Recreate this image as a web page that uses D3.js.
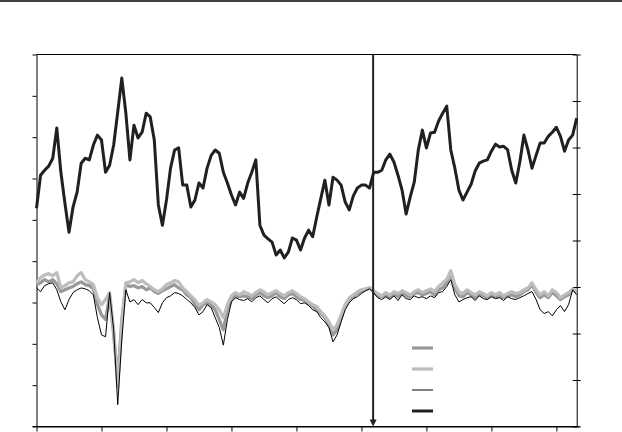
<!DOCTYPE html>
<html>
<head>
<meta charset="utf-8" />
<script src="https://cdnjs.cloudflare.com/ajax/libs/d3/7.8.5/d3.min.js"></script>
<style>
body { margin: 0; background: #fff; }
svg { display: block; }
</style>
</head>
<body>
<svg id="chart" width="622" height="432"></svg>
<script>
// observation grid: 16 steps per year, first tick year = 1997
const startYear = 1997;
const stepsPerYear = 16;
const tickYears = [1997, 1998, 1999, 2000, 2001, 2002, 2003, 2004, 2005];
const eventYear = 2002.18;

// upper series (left axis)
const upper = [
52.8, 60.8, 62.0, 63.0, 64.9, 72.2, 61.5, 54.0, 47.0, 53.1,
56.7, 63.7, 64.9, 64.5, 68.1, 70.5, 69.3, 61.5, 63.2, 68.1,
76.1, 84.3, 75.8, 64.5, 72.9, 69.8, 71.2, 75.8, 74.9, 69.3,
53.6, 48.7, 54.8, 62.5, 66.9, 67.4, 58.4, 58.4, 53.1, 54.8,
58.9, 57.7, 62.5, 65.6, 66.9, 66.1, 61.5, 58.9, 56.0, 53.6,
56.7, 55.2, 58.9, 61.5, 64.5, 48.7, 46.3, 45.4, 44.6, 41.5,
42.7, 40.8, 42.2, 45.6, 45.1, 42.7, 45.6, 47.5, 45.9, 50.7,
55.2, 59.6, 53.6, 60.3, 59.6, 58.4, 54.3, 52.4, 55.8, 57.7,
58.4, 58.4, 57.7, 61.5, 61.5, 62.0, 64.5, 65.9, 64.0, 60.8,
57.2, 51.4, 55.5, 59.1, 66.9, 71.7, 67.4, 71.0, 71.2, 73.9,
75.8, 77.5, 66.9, 62.5, 57.2, 54.8, 56.7, 58.6, 61.8, 63.7,
64.2, 64.5, 66.6, 68.3, 67.6, 67.8, 66.9, 62.0, 58.9, 64.0,
70.5, 66.9, 62.5, 65.6, 68.6, 68.6, 70.2, 71.2, 72.4, 70.2,
66.6, 69.3, 70.5, 74.6
];

// lower series (right axis)
const lightGrey = [
0.9, 2.0, 2.6, 2.9, 2.4, 3.1, -0.2, 0.3, 0.9, 1.1,
2.4, 3.1, 1.6, 1.1, 0.5, -2.3, -3.8, -2.7, -1.2, -9.2,
-21.6, -8.1, 0.9, 1.1, 1.6, 0.9, 1.4, 0.7, 0.1, -0.6,
-1.0, -0.4, 0.5, 0.9, 1.4, 1.1, -0.2, -1.0, -1.9, -2.7,
-4.0, -3.4, -2.7, -3.2, -3.8, -4.9, -6.6, -3.8, -1.9, -1.2,
-1.7, -1.0, -1.4, -1.9, -1.2, -0.6, -1.0, -1.7, -1.2, -0.8,
-1.4, -1.9, -1.2, -0.8, -1.4, -2.1, -2.5, -3.2, -3.8, -4.2,
-5.3, -6.2, -7.5, -9.2, -8.1, -6.0, -3.8, -2.3, -1.7, -1.0,
-0.6, -0.4, -0.2, -0.8, -1.4, -1.9, -1.2, -1.7, -1.0, -1.4,
-0.8, -1.2, -1.7, -1.0, -0.6, -1.2, -0.8, -0.4, -1.0, 0.1,
0.9, 1.6, 3.5, 0.5, -1.0, -1.4, -0.6, -1.2, -1.7, -1.0,
-1.4, -1.9, -1.2, -1.7, -1.2, -1.9, -1.4, -1.0, -1.4, -1.2,
-0.6, -0.2, 0.9, -0.6, -1.7, -1.0, -1.9, -0.6, -1.2, -2.3,
-1.7, -1.2, -0.4, -0.8
];

const midGrey = [
0.5, 0.9, 1.6, 1.1, 1.6, 0.7, -1.0, -0.6, -0.2, 0.1,
0.7, 1.1, 0.5, 0.3, -0.4, -3.8, -6.0, -7.0, -1.9, -10.3,
-19.9, -7.0, 0.5, 0.1, 0.3, -0.2, 0.1, -0.6, -0.2, -1.0,
-1.4, -0.8, -0.4, 0.1, 0.5, -0.2, -0.6, -1.7, -2.3, -3.8,
-4.9, -3.8, -3.4, -3.8, -4.9, -7.0, -9.2, -4.9, -2.7, -1.9,
-2.1, -1.9, -2.1, -2.5, -1.7, -1.2, -1.9, -2.3, -1.9, -1.2,
-2.1, -2.5, -1.7, -1.4, -2.1, -2.7, -2.9, -3.6, -4.2, -4.9,
-5.7, -6.6, -8.1, -10.3, -9.2, -6.6, -4.0, -2.7, -2.1, -1.4,
-1.0, -0.6, -0.2, -1.0, -1.9, -2.1, -1.7, -2.3, -1.4, -2.1,
-1.2, -1.9, -2.1, -1.4, -1.2, -1.7, -1.4, -1.0, -1.7, -0.6,
-0.2, 0.9, 3.1, -0.2, -1.9, -2.1, -1.2, -1.7, -2.3, -1.4,
-1.9, -2.3, -1.7, -2.1, -1.9, -2.3, -1.9, -1.7, -2.1, -1.7,
-1.0, -0.6, 0.5, -1.2, -2.3, -1.7, -2.3, -1.2, -1.9, -2.7,
-2.1, -1.7, -0.6, -1.0
];

const thinBlack = [
-0.2, -1.0, 0.3, 0.7, 0.9, -0.6, -3.2, -4.9, -2.7, -1.2,
-0.6, -0.2, -0.4, -0.8, -1.7, -6.6, -10.3, -10.7, -1.2, -9.2,
-25.3, -11.4, -0.6, -3.2, -2.7, -3.8, -2.7, -3.4, -3.4, -4.4,
-5.5, -3.4, -2.3, -1.9, -1.2, -1.4, -1.9, -2.7, -3.4, -4.4,
-6.0, -5.3, -3.8, -4.4, -6.6, -8.7, -12.5, -7.0, -3.2, -2.3,
-2.7, -2.9, -2.5, -3.2, -2.3, -1.9, -2.7, -3.4, -2.5, -2.1,
-2.9, -3.6, -2.7, -2.3, -2.7, -3.6, -3.4, -4.0, -4.9, -5.3,
-6.6, -7.5, -8.7, -11.8, -10.3, -7.5, -4.9, -3.4, -2.5, -2.1,
-1.4, -0.8, -0.4, -1.2, -2.3, -2.7, -2.1, -2.7, -1.9, -2.9,
-1.7, -2.5, -2.7, -1.9, -2.3, -2.1, -2.5, -1.9, -2.3, -1.2,
-1.0, 0.1, 1.6, -1.7, -3.2, -2.7, -2.3, -2.1, -2.9, -1.9,
-2.5, -2.7, -2.1, -2.5, -2.3, -2.9, -2.1, -2.5, -2.7, -2.3,
-1.9, -1.4, -1.0, -2.7, -4.9, -5.7, -5.3, -6.2, -4.9, -4.0,
-5.3, -3.8, -0.6, -1.7
];

// axis tick values
const leftTicks = [0, 10, 20, 30, 40, 50, 60, 70, 80, 90];
const rightTicks = [-30, -20, -10, 0, 10, 20, 30, 40, 50];

const years = upper.map((_, i) => startYear + i / stepsPerYear);

const svg = d3.select("#chart");
const margin = {left: 36.5, right: 45.3, top: 54.5, bottom: 5.5};
const width = 622, height = 432;

const x = d3.scaleLinear()
	.domain([startYear, startYear + (upper.length - 1) / stepsPerYear])
	.range([margin.left, width - margin.right]);
const yL = d3.scaleLinear().domain([0, 90]).range([height - margin.bottom, margin.top]);
const yR = d3.scaleLinear().domain([-30, 50]).range([height - margin.bottom, margin.top]);

// rule across the very top of the page
svg.append("line")
	.attr("x1", 0).attr("x2", width).attr("y1", 1).attr("y2", 1)
	.attr("stroke", "#000").attr("stroke-width", 1.5);

// frame top
svg.append("line")
	.attr("x1", margin.left).attr("x2", width - margin.right)
	.attr("y1", margin.top).attr("y2", margin.top)
	.attr("stroke", "#000").attr("stroke-width", 1);

// axes
const gL = svg.append("g")
	.attr("transform", `translate(${margin.left},0)`)
	.call(d3.axisLeft(yL).tickValues(leftTicks).tickSize(4).tickSizeOuter(0).tickFormat(""));
const gR = svg.append("g")
	.attr("transform", `translate(${width - margin.right},0)`)
	.call(d3.axisRight(yR).tickValues(rightTicks).tickSize(4).tickSizeOuter(0).tickFormat(""));
gR.selectAll(".tick line").attr("x1", -4);
const gB = svg.append("g")
	.attr("transform", `translate(0,${height - margin.bottom})`)
	.call(d3.axisBottom(x).tickValues(tickYears).tickSize(5).tickSizeOuter(0).tickFormat(""));
gB.append("line")
	.attr("x1", margin.left - 4).attr("x2", width - margin.right + 3)
	.attr("stroke", "#000");
[gL, gR, gB].forEach(g => {
	g.selectAll("path, line").attr("stroke", "#000").attr("stroke-width", 1);
});

// lines
const lineL = d3.line().x((d, i) => x(years[i])).y(d => yL(d));
const lineR = d3.line().x((d, i) => x(years[i])).y(d => yR(d));

const styles = {
	midGrey:   {color: "#999999", width: 3.2},
	lightGrey: {color: "#bdbdbd", width: 3.2},
	thinBlack: {color: "#000000", width: 1},
	upper:     {color: "#231f20", width: 3}
};

svg.append("path").datum(midGrey).attr("d", lineR)
	.attr("fill", "none").attr("stroke", styles.midGrey.color).attr("stroke-width", styles.midGrey.width)
	.attr("stroke-linejoin", "round");
svg.append("path").datum(lightGrey).attr("d", lineR)
	.attr("fill", "none").attr("stroke", styles.lightGrey.color).attr("stroke-width", styles.lightGrey.width)
	.attr("stroke-linejoin", "round");
svg.append("path").datum(thinBlack).attr("d", lineR)
	.attr("fill", "none").attr("stroke", styles.thinBlack.color).attr("stroke-width", styles.thinBlack.width)
	.attr("stroke-linejoin", "round");
svg.append("path").datum(upper).attr("d", lineL)
	.attr("fill", "none").attr("stroke", styles.upper.color).attr("stroke-width", styles.upper.width)
	.attr("stroke-linejoin", "round");

// event marker arrow
const ex = x(eventYear);
svg.append("line")
	.attr("x1", ex).attr("x2", ex)
	.attr("y1", margin.top).attr("y2", height - margin.bottom - 6)
	.attr("stroke", "#231f20").attr("stroke-width", 2);
svg.append("path")
	.attr("d", `M${ex - 3.5},${height - margin.bottom - 7} L${ex + 3.5},${height - margin.bottom - 7} L${ex},${height - margin.bottom} Z`)
	.attr("fill", "#231f20");

// legend samples (no labels in the original)
const legendKeys = ["midGrey", "lightGrey", "thinBlack", "upper"];
const legend = svg.append("g").attr("transform", "translate(412,348)");
legend.selectAll("line")
	.data(legendKeys)
	.enter()
	.append("line")
	.attr("x1", 0).attr("x2", 21)
	.attr("y1", (d, i) => i * 21).attr("y2", (d, i) => i * 21)
	.attr("stroke", d => styles[d].color)
	.attr("stroke-width", d => styles[d].width);
</script>
</body>
</html>
